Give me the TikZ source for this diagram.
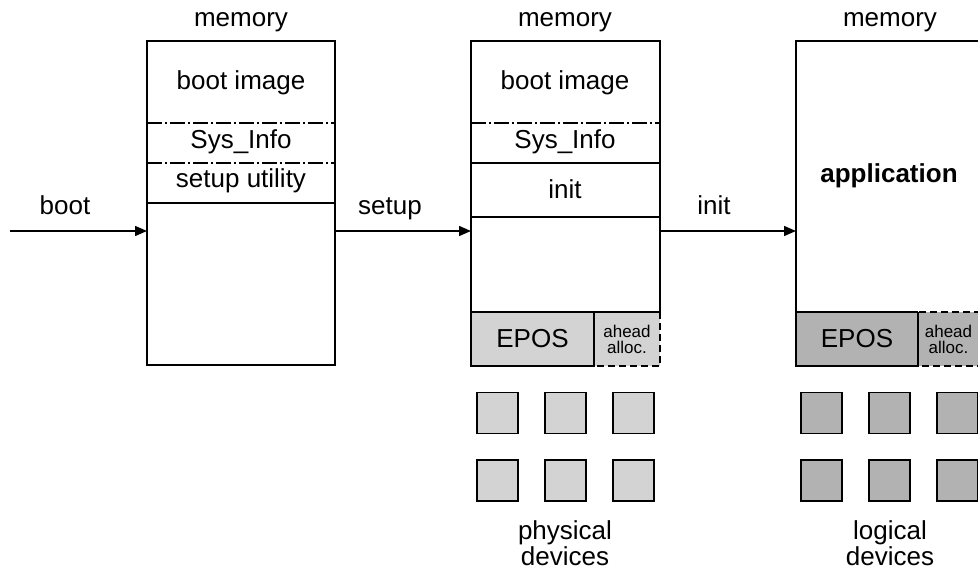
\documentclass[tikz,border=0pt]{standalone}
\usepackage{fontspec}
\setmainfont{Liberation Sans}
\usetikzlibrary{arrows.meta}
\definecolor{lgray}{HTML}{D3D3D3}
\definecolor{dgray}{HTML}{B2B2B2}
\tikzset{
  lbl/.style={font=\fontsize{26}{28}\selectfont, anchor=base, inner sep=0pt},
  small/.style={font=\fontsize{17}{16}\selectfont, align=center, inner sep=0pt, anchor=center},
  ln/.style={line width=1.5pt},
  dashdot/.style={line width=1.3pt, dash pattern=on 15pt off 3pt on 2pt off 3pt},
  dsh/.style={line width=1.3pt, dash pattern=on 7pt off 4pt},
  cell/.style={inner sep=0pt, outer sep=0pt, anchor=north west},
  dev/.style={draw, line width=1.5pt, minimum width=41pt, minimum height=41pt, inner sep=0pt},
  arr/.style={ln, -{Triangle[length=12pt,width=10pt]}}
}
\begin{document}
\begin{tikzpicture}[x=1pt,y=-1pt]
\useasboundingbox (0,0) rectangle (978,572);
\clip (0,0) rectangle (978,572);
\fill[white] (0,0) rectangle (978,572);

% ---- memory box 1 ----
\node[lbl] (mem1) at (241,27) {memory};
\node[cell, draw, ln, minimum width=188pt, minimum height=324pt] (m1) at (147,41) {};
\draw[dashdot] (147,123) -- (335,123);
\draw[dashdot] (147,163) -- (335,163);
\draw[ln] (147,203) -- (335,203);
\node[lbl] (bi1) at (241,90) {boot image};
\node[lbl] (si1) at (241,149) {Sys\_Info};
\node[lbl] (su1) at (241,188) {setup utility};

% ---- memory box 2 ----
\node[lbl] (mem2) at (565,27) {memory};
\node[cell, fill=lgray, minimum width=123pt, minimum height=54pt] (e2) at (471,312) {};
\node[cell, fill=lgray, minimum width=66pt, minimum height=54pt] (a2) at (594,312) {};
\draw[ln] (e2.north east) -- (e2.south east) -- (e2.south west) -- (e2.north west);
\draw[dsh] (a2.south west) -- (a2.north west);
\draw[dsh] (a2.north east) -- (a2.south east) -- (a2.south west);
\node[cell, draw, ln, minimum width=189pt, minimum height=271pt] (m2) at (471,41) {};
\draw[dashdot] (471,123) -- (660,123);
\draw[ln] (471,163) -- (660,163);
\draw[ln] (471,217) -- (660,217);
\node[lbl] (bi2) at (565,90) {boot image};
\node[lbl] (si2) at (565,149) {Sys\_Info};
\node[lbl] (in2) at (565,199) {init};
\node[lbl] (ep2) at (e2.center |- 0,348) {EPOS};
\node[small] (ah2) at (a2.center) {ahead\\alloc.};

% ---- memory box 3 ----
\node[lbl] (mem3) at (890,27) {memory};
\node[cell, fill=dgray, minimum width=122pt, minimum height=54pt] (e3) at (796,312) {};
\node[cell, fill=dgray, minimum width=67pt, minimum height=54pt] (a3) at (918,312) {};
\draw[ln] (e3.north east) -- (e3.south east) -- (e3.south west) -- (e3.north west);
\draw[dsh] (a3.south west) -- (a3.north west) -- (a3.north east) -- (a3.south east) -- (a3.south west);
\node[cell, minimum width=189pt, minimum height=271pt] (m3) at (796,41) {};
\draw[ln] (m3.south west) -- (m3.north west) -- (m3.north east) -- (m3.south east);
\draw[ln] (e3.north west) -- (e3.north east);
\node[lbl, font=\fontsize{26}{28}\selectfont\bfseries] (app) at (889,183) {application};
\node[lbl] (ep3) at (e3.center |- 0,348) {EPOS};
\node[small] (ah3) at ([xshift=-3pt]a3.center) {ahead\\alloc.};

% ---- arrows ----
\coordinate (start) at (10,231);
\draw[arr] (start) -- (m1.west |- start);
\draw[arr] (m1.east |- start) -- (m2.west |- start);
\draw[arr] (m2.east |- start) -- (m3.west |- start);
\node[lbl] (lboot) at (65,215) {boot};
\node[lbl] (lsetup) at (390,215) {setup};
\node[lbl] (linit) at (714,215) {init};

% ---- devices ----
\foreach \i/\x in {1/497.5,2/565.5,3/633.5}{
  \node[dev, fill=lgray] (p\i) at (\x,413) {};
  \node[dev, fill=lgray] (q\i) at (\x,480.5) {};
}
\foreach \i/\x in {1/821.5,2/889.5,3/957.5}{
  \node[dev, fill=dgray] (r\i) at (\x,413) {};
  \node[dev, fill=dgray] (s\i) at (\x,480.5) {};
}
\node[lbl] (phys) at (565,539) {physical};
\node[lbl] (pdev) at (565,565) {devices};
\node[lbl] (logi) at (890,539) {logical};
\node[lbl] (ldev) at (890,565) {devices};
\end{tikzpicture}
\end{document}
